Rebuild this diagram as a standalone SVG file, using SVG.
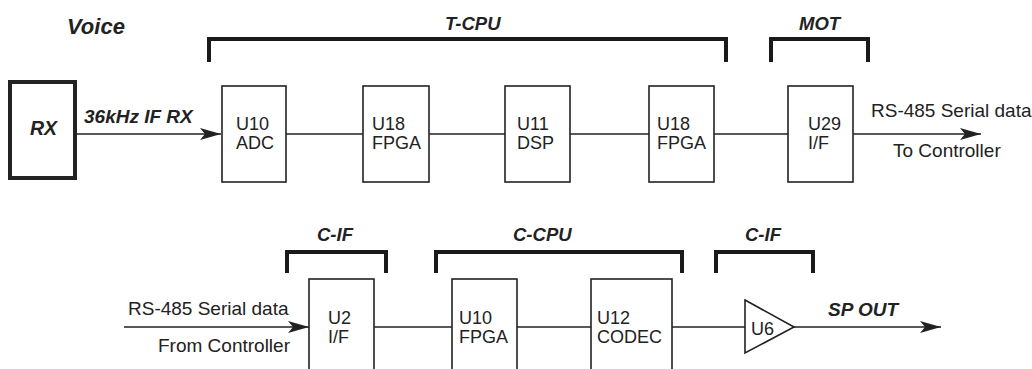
<svg xmlns="http://www.w3.org/2000/svg" width="1032" height="369" viewBox="0 0 1032 369">
<style>
.box{fill:#fff;stroke:#222;stroke-width:1.6}
.thick{fill:#fff;stroke:#222;stroke-width:4}
.br{fill:none;stroke:#1a1a1a;stroke-width:4}
.ln{fill:none;stroke:#222;stroke-width:1.6}
.t{font-family:"Liberation Sans",Arial,sans-serif;font-size:18px;fill:#222}
.lb{font-family:"Liberation Sans",Arial,sans-serif;font-size:19px;fill:#222}
.bi{font-family:"Liberation Sans",Arial,sans-serif;font-size:18.5px;font-weight:bold;font-style:italic;fill:#222}
</style>
<defs>
<marker id="ah" markerUnits="userSpaceOnUse" markerWidth="22" markerHeight="14" refX="21" refY="7" orient="auto">
<path d="M0,1 L21,7 L0,13 L5,7 z" fill="#222"/>
</marker>
</defs>
<rect width="1032" height="369" fill="#fff"/>
<g id="labels">
<text class="bi" x="67" y="34" style="font-size:22px">Voice</text>
<text class="bi" x="445" y="30">T-CPU</text>
<text class="bi" x="799" y="30">MOT</text>
<text class="bi" x="317" y="241">C-IF</text>
<text class="bi" x="513" y="241">C-CPU</text>
<text class="bi" x="745" y="241">C-IF</text>
</g>
<g id="brackets">
<path class="br" d="M209,62 V39 H726 V62"/>
<path class="br" d="M771,62 V39 H868 V62"/>
<path class="br" d="M287,273 V252 H386 V273"/>
<path class="br" d="M436,273 V252 H682 V273"/>
<path class="br" d="M716,273 V252 H813 V273"/>
</g>
<g id="connectors">
<line class="ln" x1="75" y1="134" x2="221" y2="134" marker-end="url(#ah)"/>
<line class="ln" x1="286" y1="134" x2="363" y2="134"/>
<line class="ln" x1="429" y1="134" x2="505" y2="134"/>
<line class="ln" x1="570" y1="134" x2="649" y2="134"/>
<line class="ln" x1="714" y1="134" x2="788" y2="134"/>
<line class="ln" x1="853" y1="134" x2="981" y2="134" marker-end="url(#ah)"/>
<line class="ln" x1="124" y1="327" x2="309" y2="327" marker-end="url(#ah)"/>
<line class="ln" x1="374" y1="327" x2="452" y2="327"/>
<line class="ln" x1="517" y1="327" x2="591" y2="327"/>
<line class="ln" x1="672" y1="327" x2="745" y2="327"/>
<line class="ln" x1="794" y1="327" x2="941" y2="327" marker-end="url(#ah)"/>
<text class="bi" x="84" y="123" style="font-size:19px">36kHz IF RX</text>
<text class="lb" x="871" y="117">RS-485 Serial data</text>
<text class="lb" x="893" y="157">To Controller</text>
<text class="lb" x="128" y="315">RS-485 Serial data</text>
<text class="lb" x="158" y="352">From Controller</text>
<text class="bi" x="828" y="316" style="font-size:19px">SP OUT</text>
</g>
<g id="rx">
<rect class="thick" x="10" y="82" width="65" height="96"/>
<text class="bi" x="30" y="135" style="font-size:19.5px">RX</text>
</g>
<g id="u10adc">
<rect class="box" x="222" y="86" width="64" height="96"/>
<text class="t" x="236" y="130">U10</text>
<text class="t" x="236" y="149">ADC</text>
</g>
<g id="u18fpga1">
<rect class="box" x="363" y="86" width="66" height="96"/>
<text class="t" x="372" y="130">U18</text>
<text class="t" x="372" y="149">FPGA</text>
</g>
<g id="u11dsp">
<rect class="box" x="505" y="86" width="65" height="96"/>
<text class="t" x="517" y="130">U11</text>
<text class="t" x="517" y="149">DSP</text>
</g>
<g id="u18fpga2">
<rect class="box" x="649" y="86" width="65" height="96"/>
<text class="t" x="657" y="130">U18</text>
<text class="t" x="657" y="149">FPGA</text>
</g>
<g id="u29if">
<rect class="box" x="788" y="86" width="65" height="96"/>
<text class="t" x="808" y="130">U29</text>
<text class="t" x="808" y="149">I/F</text>
</g>
<g id="u2if">
<rect class="box" x="309" y="279" width="65" height="96"/>
<text class="t" x="328" y="324">U2</text>
<text class="t" x="328" y="343">I/F</text>
</g>
<g id="u10fpga">
<rect class="box" x="452" y="279" width="65" height="96"/>
<text class="t" x="459" y="324">U10</text>
<text class="t" x="459" y="343">FPGA</text>
</g>
<g id="u12codec">
<rect class="box" x="591" y="279" width="81" height="96"/>
<text class="t" x="597" y="324">U12</text>
<text class="t" x="597" y="343">CODEC</text>
</g>
<g id="u6">
<path class="box" d="M745,300 L794,327 L745,353 Z"/>
<text class="t" x="751" y="335">U6</text>
</g>
</svg>
